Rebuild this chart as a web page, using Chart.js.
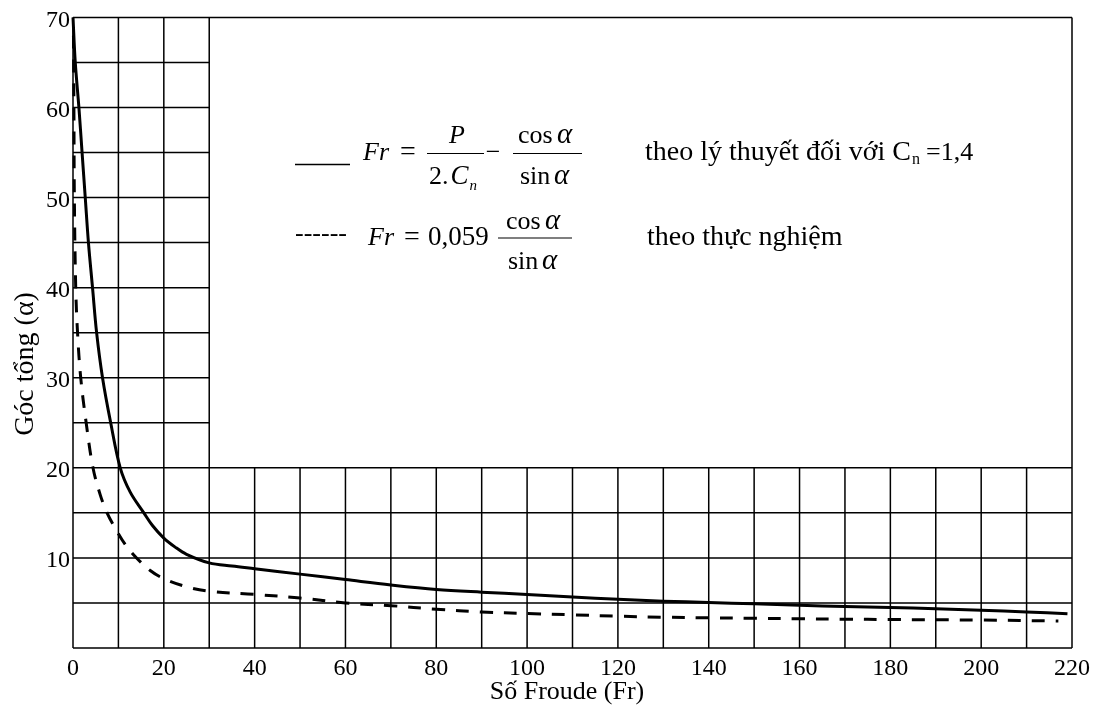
<!DOCTYPE html>
<html>
<head>
<meta charset="utf-8">
<script src="https://cdn.jsdelivr.net/npm/chart.js@4.4.1/dist/chart.umd.min.js"></script>
<style>
  html, body { margin: 0; padding: 0; background: #fff; }
  canvas { display: block; }
</style>
</head>
<body>
<canvas id="chart" width="1096" height="710"></canvas>
<script>
// Theoretical curve (C_n = 1,4): Froude number vs total angle α
const frTheory = [0, 0.5, 1.3, 2.0, 2.7, 3.4, 4.3, 5.2, 6.5, 8.3, 10.4, 12.6, 15.6, 17.5, 20, 22.5, 25, 30, 35, 40, 50, 60, 70, 80, 90, 100, 110, 120, 130, 140, 150, 160, 170, 180, 190, 200, 210, 219];
const angleTheory = [70, 65, 60, 55, 50, 45, 40, 35, 30, 25, 20, 17.3, 15, 13.6, 12.2, 11.2, 10.4, 9.45, 9.1, 8.8, 8.2, 7.6, 7.0, 6.5, 6.2, 5.95, 5.65, 5.4, 5.2, 5.05, 4.9, 4.75, 4.6, 4.5, 4.35, 4.2, 4.0, 3.8];

// Experimental curve: Fr = 0,059 cosα / sinα
const frExperiment = [0.1, 0.2, 0.3, 0.6, 1.0, 1.7, 2.9, 4.4, 6.0, 7.5, 9.3, 11.5, 14, 17, 20, 25, 30, 40, 50, 60, 70, 80, 90, 100, 110, 120, 130, 140, 150, 160, 170, 180, 200, 217];
const angleExperiment = [68, 60, 50, 40, 35, 30, 25, 20, 17, 15, 13.3, 11.5, 10, 8.6, 7.7, 6.8, 6.3, 5.95, 5.55, 5.0, 4.7, 4.3, 4.0, 3.83, 3.68, 3.53, 3.42, 3.35, 3.3, 3.24, 3.2, 3.16, 3.1, 3.0];

// Axis ranges and tick steps
const xRange = [0, 220];
const yRange = [0, 70];
const xTickStep = 20;
const yTickStep = 10;

// Axis titles and annotation texts
const xTitle = 'Số Froude (Fr)';
const yTitle = 'Góc tổng (α)';
const theoryNote = 'theo lý thuyết đối với C';
const theoryNoteTail = '=1,4';
const experimentNote = 'theo thực nghiệm';

const SERIF = '"Liberation Serif", "Times New Roman", serif';

const toPoints = (xs, ys) => xs.map((v, i) => ({ x: v, y: ys[i] }));

// Partial grid: 10×5 cells in the lower band (α ≤ 20) and the left strip (Fr ≤ 30)
const partialGrid = {
  id: 'partialGrid',
  beforeDatasetsDraw(chart) {
    const { ctx, scales: { x, y } } = chart;
    ctx.save();
    ctx.strokeStyle = '#000';
    ctx.lineWidth = 1.5;
    ctx.beginPath();
    for (let v = xRange[0]; v <= xRange[1]; v += 10) {
      const top = (v <= 30 || v === xRange[1]) ? yRange[1] : 20;
      const px = x.getPixelForValue(v);
      ctx.moveTo(px, y.getPixelForValue(yRange[0]));
      ctx.lineTo(px, y.getPixelForValue(top));
    }
    for (let v = yRange[0]; v <= yRange[1]; v += 5) {
      const right = (v <= 20 || v === yRange[1]) ? xRange[1] : 30;
      const py = y.getPixelForValue(v);
      ctx.moveTo(x.getPixelForValue(xRange[0]), py);
      ctx.lineTo(x.getPixelForValue(right), py);
    }
    ctx.stroke();
    ctx.restore();
  }
};

function put(ctx, text, x, y, font, align) {
  ctx.font = font;
  ctx.textAlign = align || 'left';
  ctx.fillText(text, x, y);
  return ctx.measureText(text).width;
}

function bar(ctx, x0, x1, y) {
  ctx.beginPath();
  ctx.moveTo(x0, y);
  ctx.lineTo(x1, y);
  ctx.stroke();
}

// Formula legend and axis titles
const annotations = {
  id: 'annotations',
  afterDraw(chart) {
    const { ctx } = chart;
    const reg = (s) => `${s}px ${SERIF}`;
    const ita = (s) => `italic ${s}px ${SERIF}`;
    ctx.save();
    ctx.fillStyle = '#000';
    ctx.strokeStyle = '#000';
    ctx.textBaseline = 'alphabetic';

    // Line 1: solid legend swatch + theoretical formula
    ctx.lineWidth = 1.3;
    bar(ctx, 295, 350, 164.5);
    put(ctx, 'Fr', 363, 160, ita(26));
    put(ctx, '=', 408, 160, reg(28), 'center');
    ctx.lineWidth = 1.2;
    bar(ctx, 427, 484, 153.5);
    put(ctx, 'P', 457, 143, ita(26), 'center');
    const w2 = put(ctx, '2.', 429, 183.5, reg(26));
    const wC = put(ctx, 'C', 431 + w2, 183.5, ita(27));
    put(ctx, 'n', 431 + w2 + wC + 1, 190, ita(15));
    put(ctx, '−', 493, 160, reg(26), 'center');
    bar(ctx, 513, 582, 153.5);
    put(ctx, 'cos', 518, 143, reg(26));
    put(ctx, 'α', 557, 143, ita(29));
    put(ctx, 'sin', 520, 183.5, reg(26));
    put(ctx, 'α', 554, 183.5, ita(29));

    const wNote = put(ctx, theoryNote, 645, 160, reg(28));
    const wn = put(ctx, 'n', 645 + wNote + 1, 164, reg(16));
    put(ctx, theoryNoteTail, 645 + wNote + wn + 7, 160, reg(26));

    // Line 2: dashed legend swatch + experimental formula
    put(ctx, '------', 295, 241, reg(26));
    put(ctx, 'Fr', 368, 245, ita(26));
    put(ctx, '=', 412, 245, reg(28), 'center');
    put(ctx, '0,059', 428, 245, reg(27));
    bar(ctx, 498, 572, 238);
    put(ctx, 'cos', 506, 228.5, reg(26));
    put(ctx, 'α', 545, 228.5, ita(29));
    put(ctx, 'sin', 508, 268.5, reg(26));
    put(ctx, 'α', 542, 268.5, ita(29));
    put(ctx, experimentNote, 647, 245, reg(28));

    // Axis titles
    put(ctx, xTitle, 567, 699, reg(26), 'center');
    ctx.translate(33, 364);
    ctx.rotate(-Math.PI / 2);
    put(ctx, yTitle, 0, 0, reg(28), 'center');
    ctx.restore();
  }
};

new Chart(document.getElementById('chart'), {
  type: 'line',
  data: {
    datasets: [
      {
        label: 'Fr = P/(2.Cn) − cosα/sinα',
        data: toPoints(frTheory, angleTheory),
        borderColor: '#000',
        borderWidth: 3,
        pointRadius: 0,
        tension: 0.35,
        fill: false,
        clip: 4
      },
      {
        label: 'Fr = 0,059 cosα/sinα',
        data: toPoints(frExperiment, angleExperiment),
        borderColor: '#000',
        borderWidth: 3,
        borderDash: [13, 11],
        pointRadius: 0,
        tension: 0.35,
        fill: false,
        clip: 4
      }
    ]
  },
  options: {
    responsive: false,
    devicePixelRatio: 1,
    animation: false,
    layout: { padding: { left: 0, right: 24, top: 14, bottom: 0 } },
    plugins: {
      legend: { display: false },
      tooltip: { enabled: false }
    },
    scales: {
      x: {
        type: 'linear',
        min: xRange[0],
        max: xRange[1],
        grid: { display: false, drawTicks: false },
        border: { display: false },
        ticks: {
          stepSize: xTickStep,
          color: '#000',
          padding: 6,
          maxRotation: 0,
          font: { family: SERIF, size: 24 }
        },
        afterFit(scale) { scale.height = 62; }
      },
      y: {
        type: 'linear',
        min: yRange[0],
        max: yRange[1],
        grid: { display: false, drawTicks: false },
        border: { display: false },
        ticks: {
          stepSize: yTickStep,
          color: '#000',
          padding: 3,
          labelOffset: 3,
          font: { family: SERIF, size: 24 },
          callback: (v) => (v === 0 ? '' : v)
        },
        afterFit(scale) { scale.width = 73; }
      }
    }
  },
  plugins: [partialGrid, annotations]
});
</script>
</body>
</html>
